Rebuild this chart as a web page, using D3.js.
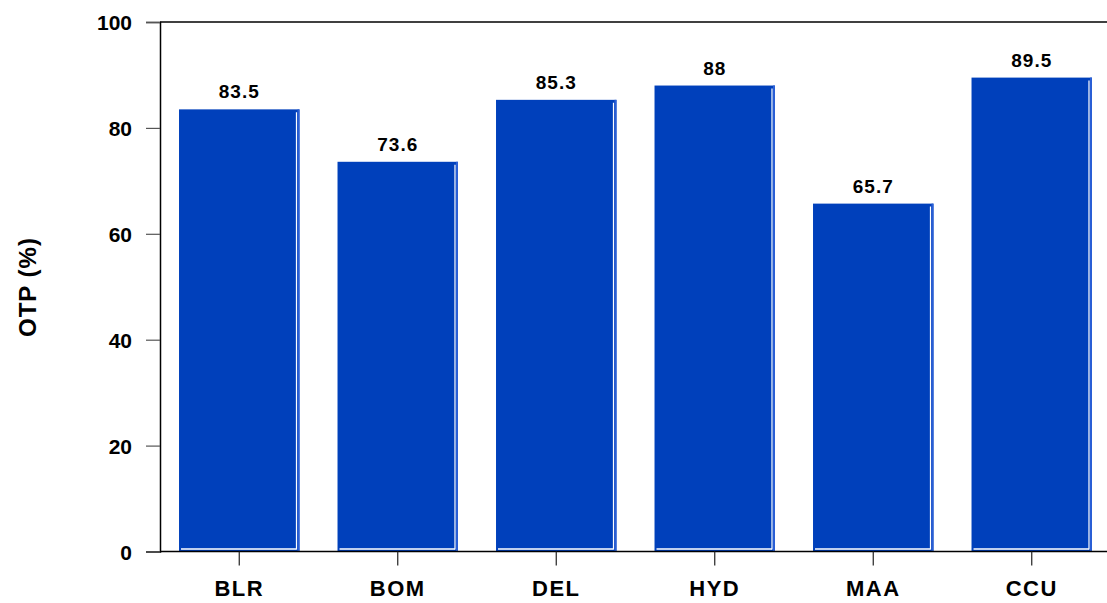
<!DOCTYPE html>
<html>
<head>
<meta charset="utf-8">
<script src="https://cdn.jsdelivr.net/npm/d3@7"></script>
<style>
  body { margin: 0; background: #fff; }
  text { font-family: "Liberation Sans", Arial, Helvetica, sans-serif; font-weight: bold; fill: #000; }
</style>
</head>
<body>
<div id="chart"></div>
<script>
const airports = ['BLR', 'BOM', 'DEL', 'HYD', 'MAA', 'CCU'];
const otpValues = [83.5, 73.6, 85.3, 88, 65.7, 89.5];
const yTicks = [0, 20, 40, 60, 80, 100];

function renderBarChart(containerId) {
    const width = 1107, height = 603;
    const left = 160, right = 1111, top = 22, bottom = 551.5;

    const svg = d3.select(`#${containerId}`)
        .append('svg')
        .attr('width', width)
        .attr('height', height);

    const x = d3.scaleBand()
        .domain(airports)
        .range([left, right])
        .paddingInner(0.24)
        .paddingOuter(0.12);

    const y = d3.scaleLinear()
        .domain([0, 100])
        .range([bottom, top]);

    const data = airports.map((a, i) => ({ name: a, value: otpValues[i] }));
    const bw = x.bandwidth();

    // bars
    const bars = svg.selectAll('.bar')
        .data(data)
        .enter()
        .append('g');

    bars.append('rect')
        .attr('x', d => x(d.name))
        .attr('y', d => y(d.value))
        .attr('width', bw)
        .attr('height', d => y(0) - y(d.value))
        .attr('fill', '#0040bb');

    // light outer edge on the right
    bars.append('rect')
        .attr('x', d => x(d.name) + bw - 2)
        .attr('y', d => y(d.value))
        .attr('width', 2)
        .attr('height', d => y(0) - y(d.value))
        .attr('fill', '#2a5fd6');

    bars.append('line')
        .attr('x1', d => x(d.name) + bw - 3)
        .attr('x2', d => x(d.name) + bw - 3)
        .attr('y1', d => y(d.value) + 3)
        .attr('y2', d => y(0) - 2)
        .attr('stroke', '#fff')
        .attr('stroke-width', 1.2);

    bars.append('line')
        .attr('x1', d => x(d.name) + 2)
        .attr('x2', d => x(d.name) + bw - 3)
        .attr('y1', y(0) - 2.5)
        .attr('y2', y(0) - 2.5)
        .attr('stroke', '#fff')
        .attr('stroke-width', 1.5);

    // value labels
    svg.selectAll('.val')
        .data(data)
        .enter()
        .append('text')
        .attr('x', d => x(d.name) + bw / 2)
        .attr('y', d => y(d.value) - 11)
        .attr('text-anchor', 'middle')
        .style('font-size', '19px')
        .style('letter-spacing', '1px')
        .text(d => d.value);

    // frame lines: top and bottom
    svg.append('line')
        .attr('x1', left).attr('x2', width)
        .attr('y1', top).attr('y2', top)
        .attr('stroke', '#000').attr('stroke-width', 1.5);

    svg.append('line')
        .attr('x1', left).attr('x2', width)
        .attr('y1', bottom).attr('y2', bottom)
        .attr('stroke', '#000').attr('stroke-width', 1.5);

    // y axis
    const yAxis = svg.append('g')
        .attr('transform', `translate(${left},0)`)
        .call(d3.axisLeft(y).tickValues(yTicks).tickSize(14).tickPadding(14));
    yAxis.select('.domain').attr('stroke', '#000').attr('stroke-width', 1.5);
    yAxis.selectAll('.tick line').attr('stroke', '#555').attr('stroke-width', 1.2);
    yAxis.selectAll('.tick text')
        .attr('fill', '#000')
        .attr('dy', '0.36em')
        .style('font-size', '21px')
        .style('font-family', '"Liberation Sans", Arial, sans-serif')
        .style('font-weight', 'bold');

    // x axis
    const xAxis = svg.append('g')
        .attr('transform', `translate(0,${bottom})`)
        .call(d3.axisBottom(x).tickSize(14).tickPadding(14));
    xAxis.select('.domain').remove();
    xAxis.selectAll('.tick line').attr('stroke', '#222').attr('stroke-width', 1.2);
    xAxis.selectAll('.tick text')
        .attr('fill', '#000')
        .attr('y', 44)
        .attr('dy', 0)
        .style('font-size', '22px')
        .style('letter-spacing', '1.5px')
        .style('font-family', '"Liberation Sans", Arial, sans-serif')
        .style('font-weight', 'bold');

    // y title
    svg.append('text')
        .attr('transform', `translate(36,287) rotate(-90)`)
        .attr('text-anchor', 'middle')
        .style('font-size', '24px')
        .style('letter-spacing', '1px')
        .text('OTP (%)');
}

renderBarChart('chart');
</script>
</body>
</html>
